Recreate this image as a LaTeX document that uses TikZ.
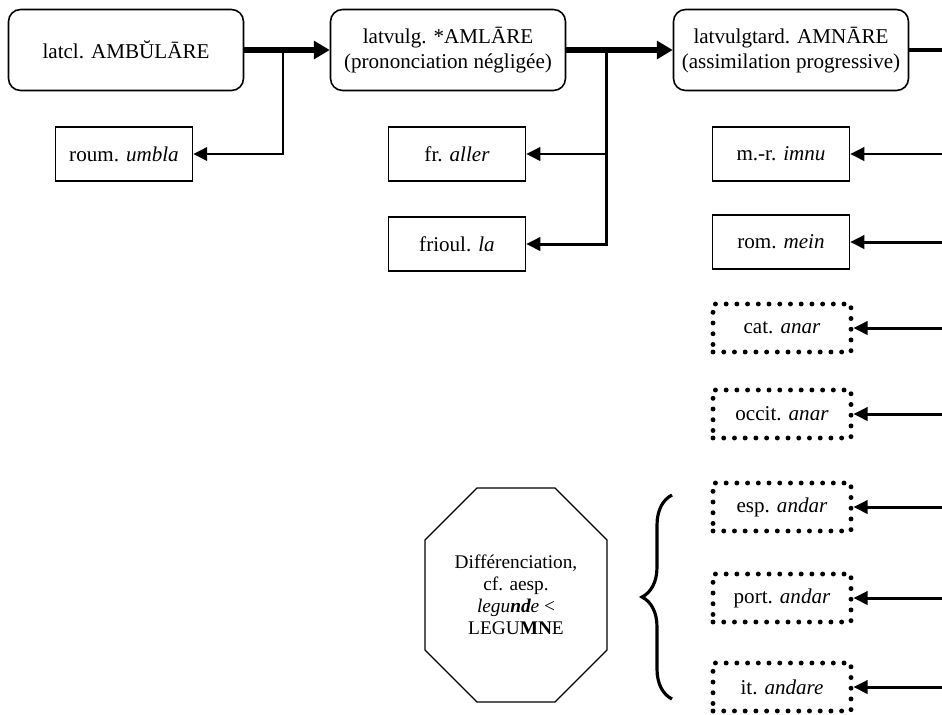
\documentclass[tikz,border=0pt]{standalone}
\usepackage{fontspec}
\setmainfont{Liberation Serif}
\usetikzlibrary{arrows.meta,positioning,shapes,calc,decorations.pathreplacing}

\begin{document}
\begin{tikzpicture}[x=0.02cm, y=-0.02cm, font=\fontsize{12}{14}\selectfont,
  stage node/.style={rectangle,rounded corners=0.24cm,draw,line width=0.9pt,minimum width=4.7cm,minimum height=1.62cm,align=center,inner sep=2pt},
  form node/.style={rectangle,draw,line width=0.8pt,minimum width=2.74cm,minimum height=1.08cm},
  lost node/.style={rectangle,draw,line width=2.8pt,line cap=round,dash pattern=on 0pt off 6.1pt,minimum width=2.76cm,minimum height=0.96cm},
  main arrow/.style={line width=3.4pt,-{Triangle[length=9pt,width=10pt]}},
  branch/.style={line width=1.7pt,-{Triangle[length=8pt,width=7.5pt]}}]
\useasboundingbox (0,0) rectangle (942,714);
\begin{scope}
\node[stage node] (latcl) at (126,50) {latcl. AMBŬLĀRE};
\node[stage node] (amlare) at (448,50) {latvulg. *AMLĀRE\\(prononciation négligée)};
\node[stage node] (amnare) at (791,50) {latvulgtard. AMNĀRE\\(assimilation progressive)};
\node[form node] (roum) at (124,154) {roum. \textit{umbla}};
\node[form node] (fr) at (457,154) {fr. \textit{aller}};
\node[form node] (frioul) at (457,244) {frioul. \textit{la}};
\node[form node] (mr) at (781,154) {m.-r. \textit{imnu}};
\node[form node] (rom) at (781,242) {rom. \textit{mein}};
\node[lost node] (cat) at (782,328) {cat. \textit{anar}};
\node[lost node] (occit) at (782,414) {occit. \textit{anar}};
\node[lost node] (esp) at (782,507) {esp. \textit{andar}};
\node[lost node] (port) at (782,598) {port. \textit{andar}};
\node[lost node] (it) at (782,687) {it. \textit{andare}};
\node[align=center,font=\fontsize{11}{12.6}\selectfont] (diff) at (516,595)
  {Différenciation,\\cf. aesp.\\\textit{legu\textbf{nd}e} <\\LEGU\textbf{MN}E};
\end{scope}
% octagon and brace
\draw[line width=0.7pt] ($(diff)+(-39,-107)$) -- ($(diff)+(39,-107)$) -- ($(diff)+(91,-55)$)
  -- ($(diff)+(91,55)$) -- ($(diff)+(39,107)$) -- ($(diff)+(-39,107)$) -- ($(diff)+(-91,55)$)
  -- ($(diff)+(-91,-55)$) -- cycle;
\coordinate (bracelow) at (672,699);
\coordinate (bracehigh) at (672,495);
\draw[line width=1.8pt,decorate,decoration={brace,amplitude=0.6cm}] (bracelow) -- (bracehigh);
\begin{scope}
\coordinate (j1) at (283,50);
\coordinate (j2) at (606,50);
\coordinate (e0) at (942,50);
\draw[main arrow] (latcl.east) -- (amlare.west);
\draw[main arrow] (amlare.east) -- (amnare.west);
\draw[line width=1.8pt] (amnare.east) -- (e0);
\draw[branch] (j1) |- (roum);
\draw[branch] (j2) |- (fr);
\draw[branch] (j2) |- (frioul);
\foreach \name in {mr,rom,cat,occit,esp,port,it}
  \draw[branch] (\name.east -| e0) -- (\name.east);
\end{scope}
\end{tikzpicture}
\end{document}
